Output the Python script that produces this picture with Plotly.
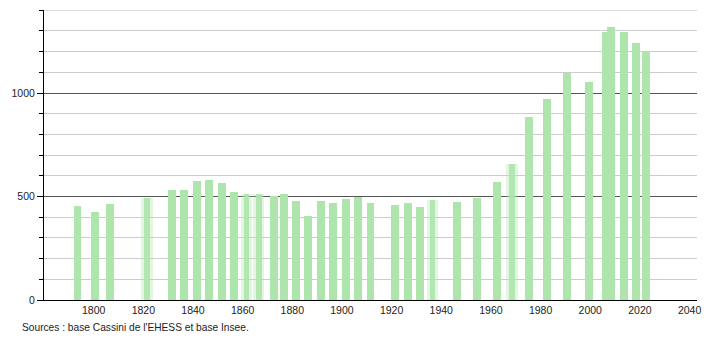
import plotly.graph_objects as go

years = [1793, 1800, 1806, 1821, 1831, 1836, 1841, 1846, 1851, 1856, 1861, 1866,
         1872, 1876, 1881, 1886, 1891, 1896, 1901, 1906, 1911, 1921, 1926, 1931,
         1936, 1946, 1954, 1962, 1968, 1975, 1982, 1990, 1999, 2006, 2008, 2013,
         2018, 2022]
population = [455, 423, 462, 493, 533, 533, 576, 582, 565, 523, 513, 513,
              504, 510, 480, 404, 480, 468, 489, 499, 470, 457, 470, 451,
              484, 475, 494, 571, 658, 886, 971, 1095, 1054, 1295, 1317, 1297,
              1240, 1204]
blurred_years = [1821, 1861, 1866, 1936, 1968]

sharp_x = [y for y in years if y not in blurred_years]
sharp_y = [p for y, p in zip(years, population) if y not in blurred_years]
blur_x = [y for y in years if y in blurred_years]
blur_y = [p for y, p in zip(years, population) if y in blurred_years]

BAR = "#ade5ad"
SHIFT = 0.5
fig = go.Figure()
fig.add_trace(go.Bar(x=sharp_x, y=sharp_y, width=3.2, offset=-1.6 + SHIFT,
                     marker=dict(color=BAR, line=dict(width=0)), showlegend=False))
# blurred (uncertain) bars: soft halo + core
fig.add_trace(go.Bar(x=blur_x, y=blur_y, width=4.6, offset=-2.3 + SHIFT,
                     marker=dict(color=BAR, opacity=0.35, line=dict(width=0)), showlegend=False))
fig.add_trace(go.Bar(x=blur_x, y=blur_y, width=2.2, offset=-1.1 + SHIFT,
                     marker=dict(color=BAR, opacity=0.9, line=dict(width=0)), showlegend=False))

fig.update_layout(
    width=710, height=340,
    margin=dict(l=44, r=9, t=10, b=40),
    plot_bgcolor="white", paper_bgcolor="white",
    barmode="overlay", bargap=0,
    font=dict(family="Liberation Sans, Arial, sans-serif", size=10, color="#222"),
    xaxis=dict(range=[1780, 2043], tickmode="array", tickvals=list(range(1800, 2041, 20)),
               showgrid=False, zeroline=False, showline=True, linecolor="black", linewidth=1,
               ticks="", tickfont=dict(size=10.5, color="#222")),
    yaxis=dict(range=[0, 1401], tickmode="array", tickvals=[0, 500, 1000],
               showgrid=True, gridcolor="#555", gridwidth=1,
               minor=dict(dtick=100, tick0=0, showgrid=True, gridcolor="#cccccc", gridwidth=1,
                          ticks="outside", ticklen=4, tickcolor="black"),
               ticks="outside", ticklen=6, tickcolor="black",
               zeroline=False, showline=True, linecolor="black", linewidth=1,
               tickfont=dict(size=10.5, color="#222"), layer="below traces"),
)
fig.add_shape(type="line", xref="paper", yref="y", x0=0, x1=1, y0=1400, y1=1400,
              line=dict(color="#cccccc", width=1), layer="below")
fig.add_annotation(text="Sources : base Cassini de l'EHESS et base Insee.", xref="paper", yref="paper",
                   x=(20 - 44) / 657, y=-27 / 290, xanchor="left", yanchor="middle", showarrow=False,
                   font=dict(size=10.2, color="#222"))
fig.write_html("out.html")
